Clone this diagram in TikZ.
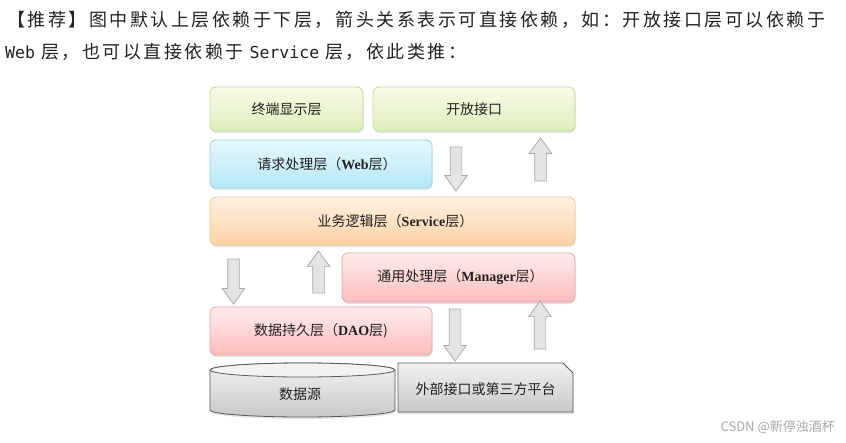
\documentclass[tikz,border=0pt]{standalone}
\usepackage{fontspec}
\usepackage{tikz}
\usetikzlibrary{shapes.arrows,shadows}
\setmainfont{Noto Sans CJK SC}
\newfontfamily\hdrfont[LetterSpace=14]{Noto Sans CJK SC}
\newfontfamily\hdrmono{DejaVu Sans Mono}
\newfontfamily\latfont{Liberation Serif}
\definecolor{lyInk}{HTML}{222222}
\definecolor{lyMark}{HTML}{A8A8A8}
\definecolor{lyGreenTop}{HTML}{F7FBE8}
\definecolor{lyGreenBot}{HTML}{DFEEBA}
\definecolor{lyGreenEdge}{HTML}{C5D99C}
\definecolor{lyBlueTop}{HTML}{E8F8FD}
\definecolor{lyBlueBot}{HTML}{B4E8F6}
\definecolor{lyBlueEdge}{HTML}{98CEDF}
\definecolor{lyOrangeTop}{HTML}{FFF1E2}
\definecolor{lyOrangeBot}{HTML}{FCD2A4}
\definecolor{lyOrangeEdge}{HTML}{F0C496}
\definecolor{lyPinkTop}{HTML}{FFEDED}
\definecolor{lyPinkBot}{HTML}{FCBCBC}
\definecolor{lyPinkEdge}{HTML}{E9A3A3}
\definecolor{lyGrayTop}{HTML}{F2F2F2}
\definecolor{lyGrayBot}{HTML}{C8C8C8}
\definecolor{lyGrayEdge}{HTML}{5A5A5A}
\definecolor{lyArrowFill}{HTML}{E4E4E4}
\definecolor{lyArrowEdge}{HTML}{A6A6A6}
\tikzset{
  lyLayer/.style={rectangle,rounded corners=6pt,line width=0.8pt,
    inner sep=0pt,font=\fontsize{14}{16}\selectfont,text=lyInk,
    drop shadow={opacity=0.2,shadow xshift=0.6pt,shadow yshift=-2pt}},
  lyGreen/.style={lyLayer,draw=lyGreenEdge,top color=lyGreenTop,bottom color=lyGreenBot},
  lyBlue/.style={lyLayer,draw=lyBlueEdge,top color=lyBlueTop,bottom color=lyBlueBot},
  lyOrange/.style={lyLayer,draw=lyOrangeEdge,top color=lyOrangeTop,bottom color=lyOrangeBot},
  lyPink/.style={lyLayer,draw=lyPinkEdge,top color=lyPinkTop,bottom color=lyPinkBot},
  lyGray/.style={line width=0.8pt,draw=lyGrayEdge,top color=lyGrayTop,bottom color=lyGrayBot,
    drop shadow={opacity=0.2,shadow xshift=0.6pt,shadow yshift=-2pt}},
  lyLabel/.style={inner sep=0pt,font=\fontsize{14}{16}\selectfont,text=lyInk},
  lyArrow/.style={single arrow,draw=lyArrowEdge,fill=lyArrowFill,line width=0.7pt,
    inner xsep=0pt,inner ysep=5.5pt,single arrow head extend=5.5pt,
    single arrow tip angle=72},
  lyDown/.style={lyArrow,rotate=-90},
  lyUp/.style={lyArrow,rotate=90},
  lyHead/.style={inner sep=0pt,anchor=west,text=lyInk,font=\hdrfont\fontsize{18}{20}\selectfont}
}
\newcommand{\lyLat}[1]{{\latfont\bfseries #1}}
\begin{document}
\begin{tikzpicture}[x=1pt,y=1pt]
\fill[white] (0,0) rectangle (846,-442);
\useasboundingbox (0,0) rectangle (846,-442);
% heading text
\node[lyHead] (head1) at (7,-20) {【推荐】图中默认上层依赖于下层，箭头关系表示可直接依赖，如：开放接口层可以依赖于};
\node[lyHead] (head2) at (5,-52) {{\hdrmono\fontsize{16.5}{20}\selectfont Web}\hspace{6pt}层，也可以直接依赖于\hspace{6pt}{\hdrmono\fontsize{16.5}{20}\selectfont Service}\hspace{6pt}层，依此类推：};
% layers
\node[lyGreen,minimum width=153pt,minimum height=44pt] (term) at (286.5,-109) {终端显示层};
\node[lyGreen,minimum width=202pt,minimum height=44pt] (open) at (474,-109) {开放接口};
\node[lyBlue,minimum width=222pt,minimum height=48pt] (web) at (321,-164) {\hspace{12pt}请求处理层（\lyLat{Web}层）};
\node[lyOrange,minimum width=365pt,minimum height=48pt] (svc) at (392.5,-221) {\hspace{6pt}业务逻辑层（\lyLat{Service}层）};
\node[lyPink,minimum width=233pt,minimum height=49pt] (mgr) at (458.5,-277.5) {\hspace{4pt}通用处理层（\lyLat{Manager}层）};
\node[lyPink,minimum width=222pt,minimum height=48pt] (dao) at (321,-331) {数据持久层（\lyLat{DAO}层)};
% data source
\path[lyGray] (210,-370) -- (210,-410) arc[start angle=180,end angle=360,x radius=92.5,y radius=7]
  -- (395,-370) arc[start angle=0,end angle=180,x radius=92.5,y radius=7] -- cycle;
\draw[line width=0.8pt,draw=lyGrayEdge,fill=lyGrayTop] (302.5,-370) ellipse[x radius=92.5,y radius=7];
\node[lyLabel] (db) at (300,-394) {数据源};
% external
\path[lyGray] (398,-363) -- (563,-363) -- (573,-373) -- (573,-412) -- (398,-412) -- cycle;
\node[lyLabel] (ext) at (485.5,-389) {外部接口或第三方平台};
% dependency arrows
\node[lyDown,minimum height=44pt] (webDown) at (456,-165) {};
\node[lyUp,minimum height=43pt] (openUp) at (540.5,-163.5) {};
\node[lyDown,minimum height=45pt] (svcDown) at (233.5,-277.5) {};
\node[lyUp,minimum height=42pt] (mgrUp) at (318.5,-276) {};
\node[lyDown,minimum height=52pt] (daoDown) at (455,-331) {};
\node[lyUp,minimum height=48pt] (extUp) at (540,-329) {};
% watermark
\node[inner sep=0pt,anchor=east,text=lyMark,font=\fontsize{13}{15}\selectfont] (mark) at (835,-427) {CSDN @新停浊酒杯};
\end{tikzpicture}
\end{document}
